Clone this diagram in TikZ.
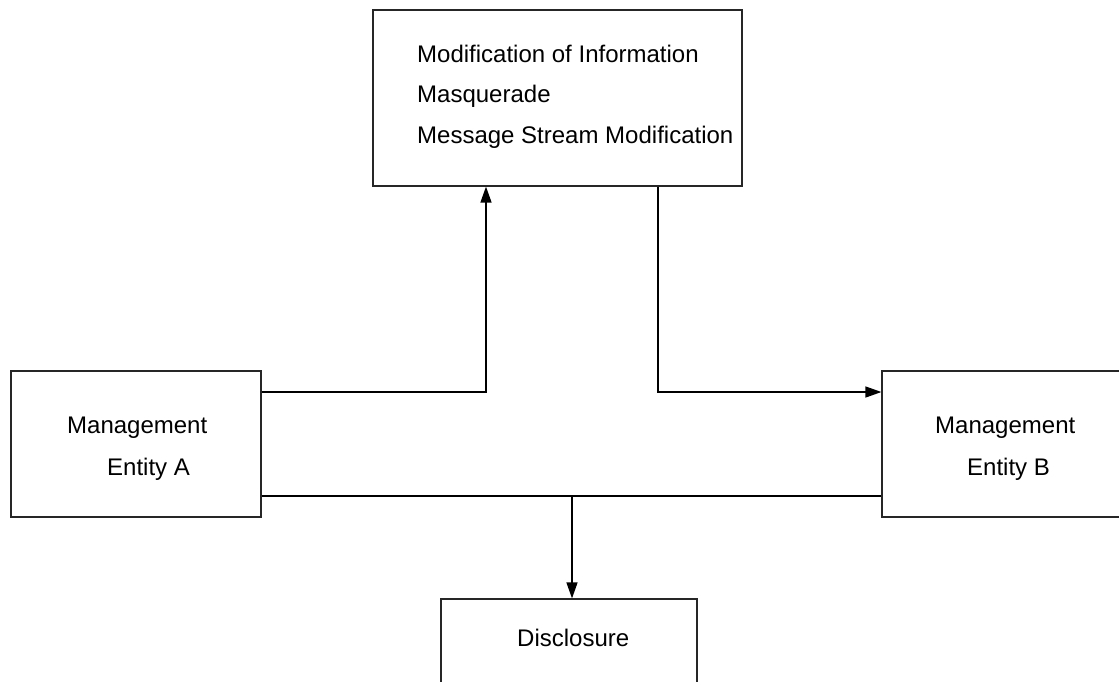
\documentclass[tikz,border=0pt]{standalone}
\usepackage{fontspec}
\setmainfont{Liberation Sans}
\usetikzlibrary{arrows.meta}
\begin{document}
\begin{tikzpicture}[x=1pt,y=-1pt,
  box/.style={draw=black!85,line width=1.2pt,inner sep=0pt,minimum width=#1},
  txt/.style={inner sep=0pt,anchor=base west,font=\fontsize{24}{28}\selectfont},
  link/.style={line width=1.4pt,draw=black},
  arr/.style={link,-{Triangle[length=16pt,width=11pt]}}]
\path[use as bounding box,clip] (0,0) rectangle (1119,681);
% boxes
\node[box=369pt,minimum height=176pt] (top) at (557.5,98) {};
\node[box=250pt,minimum height=146pt] (A) at (136,444) {};
\node[box=250pt,minimum height=146pt] (B) at (1007,444) {};
\node[box=256pt,minimum height=146pt] (D) at (569,672) {};
% labels
\node[txt] (t1) at (417,62) {Modification of Information};
\node[txt] (t2) at (417,102) {Masquerade};
\node[txt] (t3) at (417,143) {Message Stream Modification};
\node[txt] (a1) at (67,433) {Management};
\node[txt] (a2) at (107,475) {Entity A};
\node[txt] (b1) at (935,433) {Management};
\node[txt] (b2) at (967,475) {Entity B};
\node[txt] (d1) at (517,646) {Disclosure};
% connectors
\coordinate (p1) at (486,392);
\coordinate (p2) at (658,392);
\coordinate (p3) at (0,496);
\coordinate (p4) at (572,496);
\draw[arr] (A.east |- p1) -| (top.south -| p1);
\draw[arr] (top.south -| p2) |- (B.west |- p2);
\draw[link] (A.east |- p3) -- (B.west |- p3);
\draw[arr] (p4) -- (D.north -| p4);
\end{tikzpicture}
\end{document}
